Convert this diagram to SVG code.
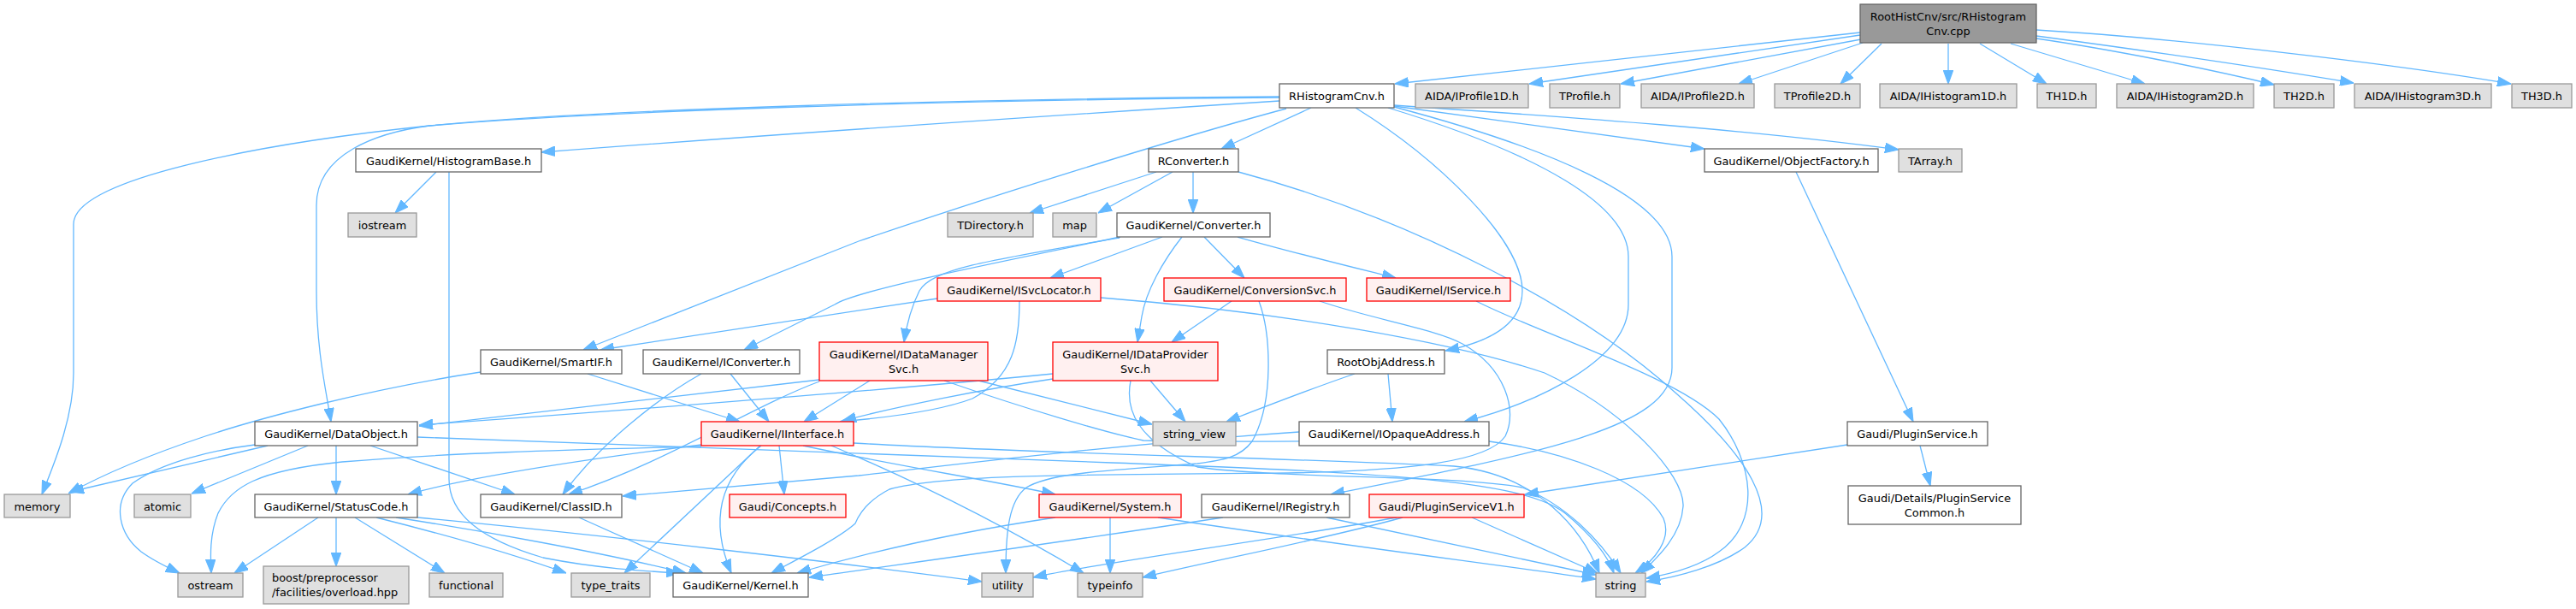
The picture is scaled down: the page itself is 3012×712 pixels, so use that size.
<svg xmlns="http://www.w3.org/2000/svg" width="3012" height="712" viewBox="0 0 3012 712">
<defs>
<marker id="a" markerUnits="userSpaceOnUse" markerWidth="16" markerHeight="12" refX="14" refY="5" orient="auto" viewBox="0 0 14 10"><path d="M0,0 L14,5 L0,10 z" fill="#63b8ff" stroke="#63b8ff" stroke-width="1"/></marker>
</defs>
<style>
.e path{fill:none;stroke:#63b8ff;stroke-width:1.3;marker-end:url(#a)}
rect{stroke-width:1.3}
.w rect{fill:#ffffff;stroke:#666666}
.g rect{fill:#e0e0e0;stroke:#999999}
.r rect{fill:#fff0f0;stroke:#ff0000}
.root rect{fill:#999999;stroke:#666666}
text{font-family:"DejaVu Sans","Liberation Sans",sans-serif;font-size:12.9px;fill:#000000;text-anchor:middle}
text.l{text-anchor:start}
</style>
<rect width="3012" height="712" fill="#ffffff"/>
<g class="e" id="edges">
<path d="M2175,38 L1631,98"/>
<path d="M2175,41 L1788,98"/>
<path d="M2176,46 L1895,98"/>
<path d="M2178,50 L2033,98"/>
<path d="M2200,51 L2152,98"/>
<path d="M2278,51 L2278,98"/>
<path d="M2315,51 L2393,98"/>
<path d="M2351,51 L2508,98"/>
<path d="M2381,45 C2470,58 2580,80 2659,99"/>
<path d="M2381,42 C2500,58 2650,80 2752,97"/>
<path d="M2381,35 C2550,45 2800,75 2936,98"/>
<path d="M1496,113 C1100,116 700,128 502,147 C300,168 86,210 86,262 L86,436 C86,490 62,545 49,578"/>
<path d="M1496,114 C1100,117 700,130 502,147 C440,155 370,180 370,240 L370,340 C370,410 381,455 387,493"/>
<path d="M1496,118 Q1000,150 633,178"/>
<path d="M1533,126 L1428,174"/>
<path d="M1504,127 C1380,160 1150,232 1004,282 L682,409"/>
<path d="M1630,124 L1993,174"/>
<path d="M1630,123 C1850,138 2050,152 2220,175"/>
<path d="M1585,126 C1680,185 1780,280 1780,340 C1780,380 1740,400 1690,410"/>
<path d="M1623,126 C1800,180 1904,240 1904,300 L1904,356 C1904,420 1800,470 1712,493"/>
<path d="M1630,125 C1800,170 1955,230 1955,300 L1955,430 C1955,500 1800,530 1556,578"/>
<path d="M1352,201 L1204,249"/>
<path d="M1371,201 L1284,249"/>
<path d="M1395,201 L1395,249"/>
<path d="M1448,201 C1650,255 1850,360 1960,460 C2040,530 2090,600 2040,640 C2010,662 1960,675 1925,680"/>
<path d="M1726,352 C1800,390 1960,440 2010,490 C2050,540 2060,610 2010,645 C1990,660 1960,670 1925,676"/>
<path d="M1310,277 C1150,310 1000,340 976,356 L870,409"/>
<path d="M1309,278 C1150,305 1090,315 1075,340 C1065,360 1060,380 1057,400"/>
<path d="M1359,277 L1228,325"/>
<path d="M1382,277 C1360,305 1340,340 1335,370 L1330,400"/>
<path d="M1408,277 L1455,325"/>
<path d="M1447,277 C1510,295 1580,312 1632,325"/>
<path d="M1096,349 L702,409"/>
<path d="M1192,352 C1192,400 1185,440 1137,466 C1100,480 1040,488 982,493"/>
<path d="M1287,348 C1500,365 1700,400 1806,436 C1900,480 1970,555 1968,592 C1966,625 1940,650 1919,670"/>
<path d="M1440,352 L1370,400"/>
<path d="M1472,352 C1486,390 1490,470 1464,516 C1450,535 1430,538 1400,542 C1300,550 1230,552 1200,570 C1180,585 1176,620 1176,670"/>
<path d="M1543,352 C1600,372 1680,385 1710,402 C1760,430 1775,480 1760,510 C1740,540 1650,550 1506,553 C1250,555 1100,555 1040,572 C1015,585 1005,600 1000,612 C980,630 930,655 902,670"/>
<path d="M854,437 L899,493"/>
<path d="M820,437 C770,465 700,520 658,578"/>
<path d="M687,437 L865,493"/>
<path d="M562,435 C430,455 300,490 240,510 C180,530 120,555 80,577"/>
<path d="M313,521 L82,575"/>
<path d="M360,521 L224,577"/>
<path d="M393,521 L393,578"/>
<path d="M298,520 C250,526 190,540 155,565 C130,590 140,625 165,645 C180,656 195,663 210,670"/>
<path d="M433,521 L602,578"/>
<path d="M488,511 C700,518 1000,528 1300,541 C1600,552 1780,560 1830,600 C1860,625 1880,650 1887,670"/>
<path d="M958,444 L490,498"/>
<path d="M958,446 C880,475 780,540 665,578"/>
<path d="M1017,445 L940,493"/>
<path d="M1144,445 L1347,496"/>
<path d="M1104,445 C1200,478 1290,505 1337,515 C1450,518 1600,514 1741,516 C1830,528 1920,560 1945,606 C1955,630 1935,655 1912,670"/>
<path d="M1231,437 C1100,450 800,475 490,497"/>
<path d="M1231,443 C1150,455 1050,475 985,492"/>
<path d="M1345,445 L1386,493"/>
<path d="M1322,445 C1315,480 1330,515 1400,546 C1500,560 1700,555 1780,570 C1830,590 1870,630 1895,670"/>
<path d="M1623,437 L1628,493"/>
<path d="M1584,437 C1540,452 1480,475 1434,493"/>
<path d="M1519,505 C1300,520 1100,545 1004,556 L728,580"/>
<path d="M820,520 C700,535 560,555 477,578"/>
<path d="M820,522 C650,526 520,530 400,540 C300,550 270,570 255,600 C245,625 246,650 247,670"/>
<path d="M890,521 C840,560 830,610 855,670"/>
<path d="M889,521 L730,670"/>
<path d="M911,521 L917,578"/>
<path d="M939,521 C1050,545 1150,560 1234,578"/>
<path d="M972,521 C1100,575 1200,630 1267,670"/>
<path d="M998,518 C1200,530 1500,535 1700,545 C1800,555 1850,620 1870,670"/>
<path d="M372,605 L274,670"/>
<path d="M393,605 L393,662"/>
<path d="M415,605 L520,670"/>
<path d="M440,605 C520,625 600,648 662,670"/>
<path d="M463,605 C560,620 700,645 802,670"/>
<path d="M488,605 C700,625 1000,660 1148,680"/>
<path d="M677,605 L822,670"/>
<path d="M1234,605 C1100,625 1000,650 932,670"/>
<path d="M1298,605 L1298,670"/>
<path d="M1354,605 C1550,635 1750,660 1866,677"/>
<path d="M1430,605 C1200,640 1050,660 946,675"/>
<path d="M1551,605 L1866,672"/>
<path d="M1721,605 L1868,670"/>
<path d="M1633,605 C1500,630 1300,655 1208,675"/>
<path d="M1640,605 C1550,630 1420,655 1336,675"/>
<path d="M2160,520 L1783,578"/>
<path d="M2245,521 L2257,568"/>
<path d="M2100,201 L2237,493"/>
<path d="M510,201 L462,249"/>
<path d="M525,201 L525,560 C525,600 560,630 635,652 C700,665 760,668 795,670"/>
</g>
<g id="root" class="root"><rect x="2175" y="5" width="206" height="45"/><text x="2278" y="23.5">RootHistCnv/src/RHistogram</text><text x="2278" y="40.5">Cnv.cpp</text></g>
<g id="n_rhistogramcnv" class="w"><rect x="1496" y="98" width="134" height="28"/><text x="1563" y="117">RHistogramCnv.h</text></g>
<g id="n_iprofile1d" class="g"><rect x="1655" y="98" width="132" height="28"/><text x="1721" y="117">AIDA/IProfile1D.h</text></g>
<g id="n_tprofile" class="g"><rect x="1812" y="98" width="82" height="28"/><text x="1853" y="117">TProfile.h</text></g>
<g id="n_iprofile2d" class="g"><rect x="1919" y="98" width="132" height="28"/><text x="1985" y="117">AIDA/IProfile2D.h</text></g>
<g id="n_tprofile2d" class="g"><rect x="2075" y="98" width="100" height="28"/><text x="2125" y="117">TProfile2D.h</text></g>
<g id="n_ihist1d" class="g"><rect x="2198" y="98" width="160" height="28"/><text x="2278" y="117">AIDA/IHistogram1D.h</text></g>
<g id="n_th1d" class="g"><rect x="2382" y="98" width="69" height="28"/><text x="2416.5" y="117">TH1D.h</text></g>
<g id="n_ihist2d" class="g"><rect x="2475" y="98" width="160" height="28"/><text x="2555" y="117">AIDA/IHistogram2D.h</text></g>
<g id="n_th2d" class="g"><rect x="2659" y="98" width="70" height="28"/><text x="2694" y="117">TH2D.h</text></g>
<g id="n_ihist3d" class="g"><rect x="2753" y="98" width="160" height="28"/><text x="2833" y="117">AIDA/IHistogram3D.h</text></g>
<g id="n_th3d" class="g"><rect x="2937" y="98" width="70" height="28"/><text x="2972" y="117">TH3D.h</text></g>
<g id="n_histbase" class="w"><rect x="416" y="174" width="217" height="27"/><text x="524.5" y="192.5">GaudiKernel/HistogramBase.h</text></g>
<g id="n_rconverter" class="w"><rect x="1343" y="174" width="105" height="27"/><text x="1395.5" y="192.5">RConverter.h</text></g>
<g id="n_objfactory" class="w"><rect x="1993" y="174" width="203" height="27"/><text x="2094.5" y="192.5">GaudiKernel/ObjectFactory.h</text></g>
<g id="n_tarray" class="g"><rect x="2220" y="174" width="74" height="27"/><text x="2257" y="192.5">TArray.h</text></g>
<g id="n_iostream" class="g"><rect x="407" y="249" width="80" height="28"/><text x="447" y="268">iostream</text></g>
<g id="n_tdirectory" class="g"><rect x="1108" y="249" width="100" height="28"/><text x="1158" y="268">TDirectory.h</text></g>
<g id="n_map" class="g"><rect x="1231" y="249" width="51" height="28"/><text x="1256.5" y="268">map</text></g>
<g id="n_converter" class="w"><rect x="1306" y="249" width="179" height="28"/><text x="1395.5" y="268">GaudiKernel/Converter.h</text></g>
<g id="n_isvclocator" class="r"><rect x="1096" y="325" width="191" height="27"/><text x="1191.5" y="343.5">GaudiKernel/ISvcLocator.h</text></g>
<g id="n_conversionsvc" class="r"><rect x="1361" y="325" width="213" height="27"/><text x="1467.5" y="343.5">GaudiKernel/ConversionSvc.h</text></g>
<g id="n_iservice" class="r"><rect x="1598" y="325" width="168" height="27"/><text x="1682" y="343.5">GaudiKernel/IService.h</text></g>
<g id="n_smartif" class="w"><rect x="562" y="409" width="165" height="28"/><text x="644.5" y="428">GaudiKernel/SmartIF.h</text></g>
<g id="n_iconverter" class="w"><rect x="752" y="409" width="183" height="28"/><text x="843.5" y="428">GaudiKernel/IConverter.h</text></g>
<g id="n_idatamanager" class="r"><rect x="958" y="400" width="197" height="45"/><text x="1056.5" y="419">GaudiKernel/IDataManager</text><text x="1056.5" y="436">Svc.h</text></g>
<g id="n_idataprovider" class="r"><rect x="1231" y="400" width="193" height="45"/><text x="1327.5" y="419">GaudiKernel/IDataProvider</text><text x="1327.5" y="436">Svc.h</text></g>
<g id="n_rootobjaddress" class="w"><rect x="1552" y="409" width="137" height="28"/><text x="1620.5" y="428">RootObjAddress.h</text></g>
<g id="n_dataobject" class="w"><rect x="298" y="493" width="190" height="28"/><text x="393" y="512">GaudiKernel/DataObject.h</text></g>
<g id="n_iinterface" class="r"><rect x="820" y="493" width="178" height="28"/><text x="909" y="512">GaudiKernel/IInterface.h</text></g>
<g id="n_stringview" class="g"><rect x="1348" y="493" width="97" height="28"/><text x="1396.5" y="512">string_view</text></g>
<g id="n_iopaque" class="w"><rect x="1519" y="493" width="222" height="28"/><text x="1630" y="512">GaudiKernel/IOpaqueAddress.h</text></g>
<g id="n_pluginservice" class="w"><rect x="2160" y="493" width="164" height="28"/><text x="2242" y="512">Gaudi/PluginService.h</text></g>
<g id="n_memory" class="g"><rect x="5" y="578" width="77" height="27"/><text x="43.5" y="596.5">memory</text></g>
<g id="n_atomic" class="g"><rect x="157" y="578" width="66" height="27"/><text x="190" y="596.5">atomic</text></g>
<g id="n_statuscode" class="w"><rect x="298" y="578" width="190" height="27"/><text x="393" y="596.5">GaudiKernel/StatusCode.h</text></g>
<g id="n_classid" class="w"><rect x="562" y="578" width="165" height="27"/><text x="644.5" y="596.5">GaudiKernel/ClassID.h</text></g>
<g id="n_concepts" class="r"><rect x="853" y="578" width="136" height="27"/><text x="921" y="596.5">Gaudi/Concepts.h</text></g>
<g id="n_system" class="r"><rect x="1215" y="578" width="166" height="27"/><text x="1298" y="596.5">GaudiKernel/System.h</text></g>
<g id="n_iregistry" class="w"><rect x="1405" y="578" width="173" height="27"/><text x="1491.5" y="596.5">GaudiKernel/IRegistry.h</text></g>
<g id="n_pluginv1" class="r"><rect x="1601" y="578" width="181" height="27"/><text x="1691.5" y="596.5">Gaudi/PluginServiceV1.h</text></g>
<g id="n_plugincommon" class="w"><rect x="2161" y="568" width="202" height="45"/><text x="2262" y="587">Gaudi/Details/PluginService</text><text x="2262" y="604">Common.h</text></g>
<g id="n_ostream" class="g"><rect x="208" y="670" width="76" height="28"/><text x="246" y="689">ostream</text></g>
<g id="n_boost" class="g"><rect x="308" y="662" width="170" height="44"/><text class="l" x="318" y="679.5">boost/preprocessor</text><text class="l" x="318" y="696.5">/facilities/overload.hpp</text></g>
<g id="n_functional" class="g"><rect x="502" y="670" width="86" height="28"/><text x="545" y="689">functional</text></g>
<g id="n_typetraits" class="g"><rect x="668" y="670" width="92" height="28"/><text x="714" y="689">type_traits</text></g>
<g id="n_kernel" class="w"><rect x="787" y="670" width="158" height="28"/><text x="866" y="689">GaudiKernel/Kernel.h</text></g>
<g id="n_utility" class="g"><rect x="1148" y="670" width="60" height="28"/><text x="1178" y="689">utility</text></g>
<g id="n_typeinfo" class="g"><rect x="1260" y="670" width="76" height="28"/><text x="1298" y="689">typeinfo</text></g>
<g id="n_string" class="g"><rect x="1866" y="670" width="58" height="28"/><text x="1895" y="689">string</text></g>
</svg>
